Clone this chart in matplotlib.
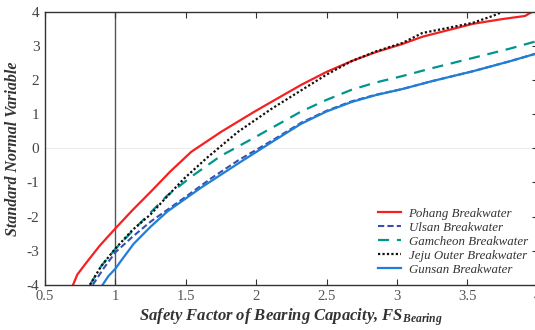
import matplotlib
matplotlib.use("Agg")
import matplotlib.pyplot as plt

plt.rcParams['axes.unicode_minus'] = False
plt.rcParams['mathtext.fontset'] = 'custom'
plt.rcParams['mathtext.it'] = 'Liberation Serif:italic:bold'
plt.rcParams['mathtext.rm'] = 'Liberation Serif:bold'

series_names = ["Pohang Breakwater", "Ulsan Breakwater", "Gamcheon Breakwater",
                "Jeju Outer Breakwater", "Gunsan Breakwater"]

pohang_x = [0.70, 0.73, 0.80, 0.89, 1.00, 1.12, 1.25, 1.39, 1.54, 1.75, 1.99, 2.18, 2.32, 2.50, 2.68, 2.85, 3.04, 3.18, 3.35, 3.54, 3.75, 3.91, 3.96, 4.00]
pohang_y = [-4.0, -3.7, -3.32, -2.85, -2.35, -1.82, -1.28, -0.68, -0.1, 0.48, 1.08, 1.53, 1.86, 2.24, 2.56, 2.82, 3.06, 3.27, 3.45, 3.65, 3.79, 3.88, 4.0, 4.02]

ulsan_x = [0.84, 0.92, 1.00, 1.12, 1.25, 1.49, 1.68, 1.87, 2.11, 2.32, 2.50, 2.68, 2.85, 3.04, 3.25, 3.54, 3.80, 4.00]
ulsan_y = [-4.0, -3.5, -3.05, -2.6, -2.15, -1.45, -0.88, -0.36, 0.22, 0.75, 1.1, 1.38, 1.57, 1.74, 1.97, 2.26, 2.55, 2.79]

gamcheon_x = [0.82, 0.90, 1.00, 1.15, 1.37, 1.55, 1.75, 1.99, 2.32, 2.50, 2.68, 2.85, 3.04, 3.25, 3.54, 3.80, 4.00]
gamcheon_y = [-4.0, -3.45, -2.95, -2.3, -1.38, -0.8, -0.22, 0.32, 1.08, 1.42, 1.72, 1.93, 2.12, 2.35, 2.65, 2.92, 3.15]

jeju_x = [0.82, 0.90, 1.00, 1.12, 1.25, 1.37, 1.49, 1.65, 1.87, 2.11, 2.32, 2.50, 2.68, 2.85, 3.04, 3.18, 3.35, 3.54, 3.68, 3.75]
jeju_y = [-4.0, -3.45, -2.94, -2.4, -1.94, -1.4, -0.88, -0.28, 0.48, 1.16, 1.7, 2.16, 2.56, 2.84, 3.09, 3.38, 3.52, 3.68, 3.88, 4.0]

gunsan_x = [0.91, 0.95, 1.00, 1.04, 1.13, 1.25, 1.37, 1.61, 1.87, 2.11, 2.32, 2.50, 2.68, 2.85, 3.04, 3.25, 3.54, 3.80, 4.00]
gunsan_y = [-4.0, -3.75, -3.53, -3.3, -2.8, -2.3, -1.85, -1.15, -0.45, 0.18, 0.72, 1.08, 1.36, 1.56, 1.74, 1.97, 2.26, 2.55, 2.79]

x_ticks = [0.5, 1, 1.5, 2, 2.5, 3, 3.5, 4]
x_tick_labels = ["0.5", "1", "1.5", "2", "2.5", "3", "3.5", "4"]
y_ticks = [-4, -3, -2, -1, 0, 1, 2, 3, 4]
y_tick_labels = ["-4", "-3", "-2", "-1", "0", "1", "2", "3", "4"]

fig = plt.figure(figsize=(5.35, 3.3), dpi=100)
ax = fig.add_axes([0.084, 0.137, 0.921, 0.827])

ax.axhline(0, color="#e8e8e8", lw=0.6, zorder=0)
ax.axvline(1, color="#555555", lw=1.0, zorder=1)

ax.plot(pohang_x, pohang_y, color="#f52020", lw=1.6, label=series_names[0])
ax.plot(ulsan_x, ulsan_y, color="#3a50b0", lw=1.5, ls=(0, (3, 1.5)), label=series_names[1])
ax.plot(gamcheon_x, gamcheon_y, color="#00958f", lw=1.6, ls=(0, (5, 3.5)), label=series_names[2])
ax.plot(jeju_x, jeju_y, color="#111111", lw=1.6, ls=(0, (1, 1)), label=series_names[3])
ax.plot(gunsan_x, gunsan_y, color="#1f7fd6", lw=1.6, label=series_names[4])

ax.set_xlim(0.5, 4)
ax.set_ylim(-4, 4)
ax.set_xticks(x_ticks)
ax.set_xticklabels(x_tick_labels)
ax.set_yticks(y_ticks)
ax.set_yticklabels(y_tick_labels)

for s in ax.spines.values():
    s.set_color("#333333")
    s.set_linewidth(1.0)

ax.tick_params(axis='x', direction='in', top=True, bottom=True, length=4, color="#333333",
               labelsize=10.5, labelcolor="#555555", pad=4)
ax.tick_params(axis='y', direction='in', left=False, right=True, length=4, color="#333333",
               labelsize=11, labelcolor="#444444", pad=4)
for lbl in ax.get_xticklabels() + ax.get_yticklabels():
    lbl.set_family("Liberation Serif")

ax.set_ylabel("Standard Normal Variable", family="Liberation Serif", style="italic",
              weight="bold", fontsize=11.5, color="#333333", labelpad=4)
ax.set_xlabel(r"Safety Factor of Bearing Capacity, FS$_{Bearing}$", family="Liberation Serif",
              style="italic", weight="bold", fontsize=12, color="#333333", labelpad=2)

leg = ax.legend(loc="lower right", frameon=False, bbox_to_anchor=(0.998, 0.0),
                prop={"family": "Liberation Serif", "style": "italic", "size": 9.3},
                handlelength=1.8, handletextpad=0.55, labelspacing=0.15, borderaxespad=0.3)
for t in leg.get_texts():
    t.set_color("#333333")

fig.savefig("out.png", dpi=100)
